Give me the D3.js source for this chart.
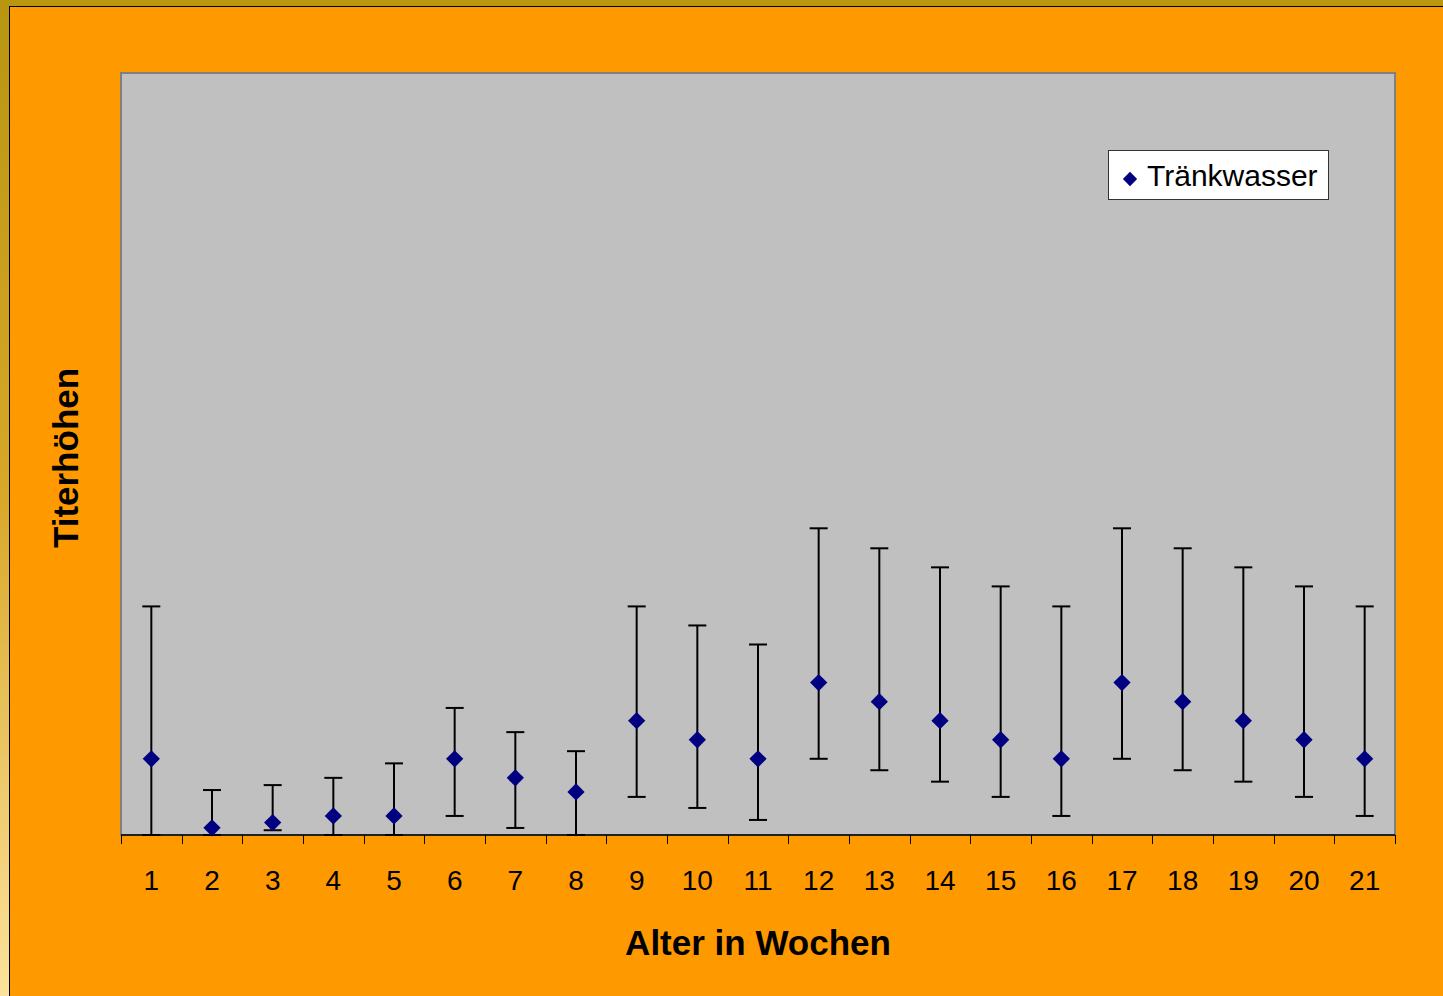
<!DOCTYPE html>
<html><head><meta charset="utf-8">
<script src="https://cdn.jsdelivr.net/npm/d3@7"></script>
<style>
html,body{margin:0;padding:0;}
body{width:1443px;height:996px;overflow:hidden;background:linear-gradient(to bottom,#B8960F 0%,#D8A828 50%,#FCE29C 100%);}
svg{display:block;}
</style></head><body>
<svg id="c" width="1443" height="996"></svg>
<script>
const weeks = [1,2,3,4,5,6,7,8,9,10,11,12,13,14,15,16,17,18,19,20,21];
const means = [4,0.38,0.65,1,1,4,3,2.26,6,5,4,8,7,6,5,4,8,7,6,5,4];
const upper = [12,2.36,2.62,3.0,3.76,6.67,5.4,4.4,12,11,10,16.1,15.05,14.05,13.05,12,16.1,15.05,14.05,13.05,12];
const lower = [0,0,0.25,0,0,1,0.37,0,2,1.42,0.79,4,3.4,2.8,2,1,4,3.4,2.8,2,1];
const seriesName = "Tränkwasser";
const xTitle = "Alter in Wochen";
const yTitle = "Titerhöhen";

const svg = d3.select("#c");
svg.append("rect").attr("x",9.5).attr("y",6.5).attr("width",1443).attr("height",1000)
  .attr("fill","#FF9900").attr("stroke","#000").attr("stroke-width",1);

const L=121,R=1395,T=73,B=835;
const x = d3.scaleBand().domain(weeks).range([L,R]).padding(0);
const y = d3.scaleLinear().domain([0,40]).range([B,T]);

svg.append("rect").attr("x",L).attr("y",T).attr("width",R-L).attr("height",B-T)
  .attr("fill","#C0C0C0").attr("stroke","#808080").attr("stroke-width",2);

const g = svg.append("g");
g.append("line").attr("x1",L).attr("x2",R).attr("y1",B).attr("y2",B).attr("stroke","#000").attr("stroke-width",1.5);
const bounds = weeks.map(w=>x(w)).concat([R]);
g.selectAll("line.tk").data(bounds).join("line").attr("class","tk")
  .attr("x1",d=>Math.round(d)+0.5).attr("x2",d=>Math.round(d)+0.5).attr("y1",B).attr("y2",B+9)
  .attr("stroke","#000").attr("stroke-width",1);
g.selectAll("text.tl").data(weeks).join("text").attr("class","tl")
  .attr("x",d=>x(d)+x.bandwidth()/2).attr("y",890).attr("text-anchor","middle")
  .attr("font-family","Liberation Sans, Arial, sans-serif").attr("font-size",28).attr("fill","#000")
  .text(d=>d);

const data = weeks.map((w,i)=>({w,m:means[i],u:upper[i],l:lower[i]}));
const eb = svg.append("g").attr("stroke","#000").attr("stroke-width",2);
const cx = d=>x(d.w)+x.bandwidth()/2;
eb.selectAll("line.v").data(data).join("line").attr("class","v")
  .attr("x1",cx).attr("x2",cx).attr("y1",d=>y(d.u)).attr("y2",d=>y(d.l));
eb.selectAll("line.cu").data(data).join("line").attr("class","cu")
  .attr("x1",d=>cx(d)-9).attr("x2",d=>cx(d)+9).attr("y1",d=>y(d.u)).attr("y2",d=>y(d.u));
eb.selectAll("line.cl").data(data).join("line").attr("class","cl")
  .attr("x1",d=>cx(d)-9).attr("x2",d=>cx(d)+9).attr("y1",d=>y(d.l)).attr("y2",d=>y(d.l));

const diamond = d3.symbol().type(d3.symbolDiamond2).size(190);
svg.append("g").selectAll("path").data(data).join("path")
  .attr("transform",d=>`translate(${cx(d)},${y(d.m)})`).attr("d",diamond).attr("fill","#000080");

const lg = svg.append("g");
lg.append("rect").attr("x",1108.5).attr("y",150.5).attr("width",220).attr("height",49)
  .attr("fill","#fff").attr("stroke","#333").attr("stroke-width",1);
lg.append("path").attr("transform","translate(1130,179)").attr("d",d3.symbol().type(d3.symbolDiamond2).size(130)).attr("fill","#000080");
lg.append("text").attr("x",1147).attr("y",186).attr("font-family","Liberation Sans, Arial, sans-serif")
  .attr("font-size",30).attr("fill","#000").text(seriesName);

svg.append("text").attr("x",758).attr("y",955).attr("text-anchor","middle")
  .attr("font-family","Liberation Sans, Arial, sans-serif").attr("font-weight","bold").attr("font-size",35)
  .text(xTitle);
svg.append("text").attr("transform","translate(78,458) rotate(-90)").attr("text-anchor","middle")
  .attr("font-family","Liberation Sans, Arial, sans-serif").attr("font-weight","bold").attr("font-size",35)
  .text(yTitle);
</script>
</body></html>
